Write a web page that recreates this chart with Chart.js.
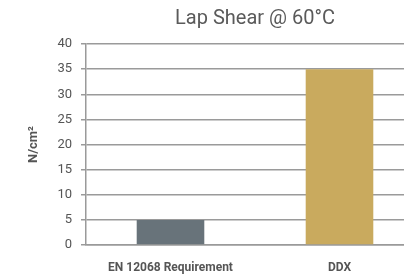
<!DOCTYPE html>
<html>
<head>
<meta charset="utf-8">
<script src="https://cdn.jsdelivr.net/npm/chart.js@4"></script>
<style>
  html, body { margin: 0; padding: 0; background: #fff; }
  #wrap { width: 404px; height: 279px; overflow: hidden; }
</style>
</head>
<body>
<div id="wrap"><canvas id="myChart" width="424" height="279"></canvas></div>
<script>
// data
var categories = ['EN 12068 Requirement', 'DDX'];
var values = [5, 35];
var barColors = ['#68737a', '#c9aa5e'];
var yTicks = [0, 5, 10, 15, 20, 25, 30, 35, 40];

var fontFam = "Roboto, sans-serif";
var gridGray = '#9a9a9a';

var ctx = document.getElementById('myChart');
var myChart = new Chart(ctx, {
    type: 'bar',
    data: {
        labels: categories,
        datasets: [{
            label: 'N/cm²',
            data: values,
            backgroundColor: barColors,
            borderWidth: 0,
            barPercentage: 0.4,
            categoryPercentage: 1.0
        }]
    },
    options: {
        responsive: false,
        animation: false,
        layout: { padding: 0 },
        plugins: {
            legend: { display: false },
            tooltip: { enabled: false },
            title: {
                display: true,
                text: 'Lap Shear @ 60°C',
                fullSize: false,
                color: '#5a5a5a',
                font: { family: fontFam, size: 20, weight: 'normal' },
                padding: { top: 7, bottom: 13 }
            }
        },
        scales: {
            x: {
                grid: { display: false },
                border: { color: gridGray, width: 1.5 },
                ticks: {
                    color: '#555',
                    padding: 8,
                    font: { family: fontFam, size: 12, weight: 'bold' }
                },
                afterFit: function (s) { s.height = 34; }
            },
            y: {
                min: 0,
                max: 40,
                afterBuildTicks: function (s) {
                    s.ticks = yTicks.map(function (v) { return { value: v }; });
                },
                grid: {
                    color: gridGray,
                    lineWidth: 1.5,
                    tickLength: 5
                },
                border: { color: gridGray, width: 1.5 },
                ticks: {
                    color: '#555',
                    padding: 9,
                    font: { family: fontFam, size: 13 }
                },
                title: {
                    display: true,
                    text: 'N/cm²',
                    color: '#555',
                    font: { family: fontFam, size: 13, weight: 'bold' },
                    padding: { top: 26, bottom: 0 }
                },
                afterFit: function (s) { s.width = 86; }
            }
        }
    }
});
</script>
</body>
</html>
